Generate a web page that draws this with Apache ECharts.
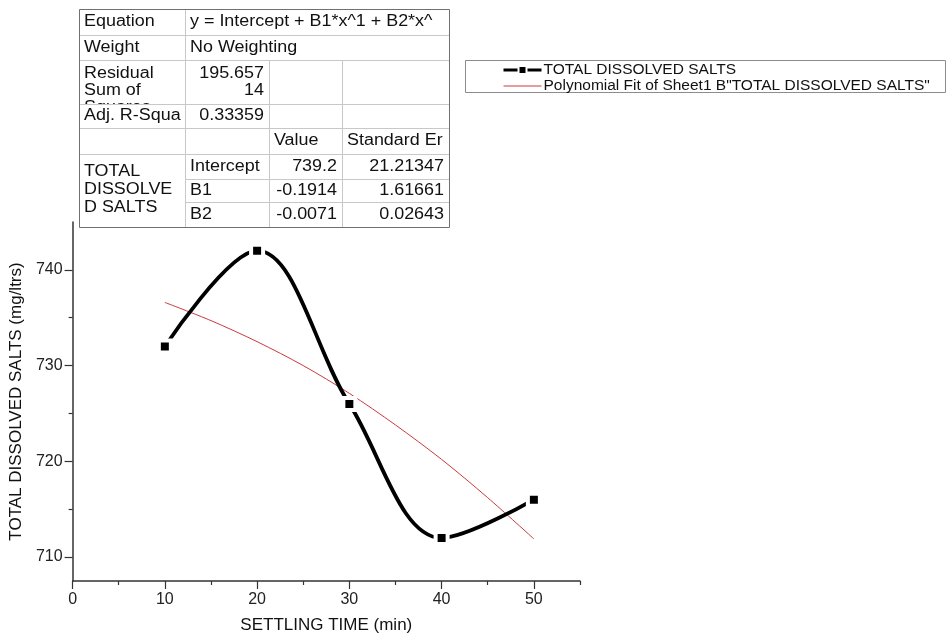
<!DOCTYPE html>
<html>
<head>
<meta charset="utf-8">
<script src="https://cdn.jsdelivr.net/npm/echarts@6/dist/echarts.min.js"></script>
<style>html,body{margin:0;padding:0;background:#fff;}#c{width:952px;height:639px;}</style>
</head>
<body>
<div id="c"></div>
<script>
// ---- data ----
const settlingTime = [10, 20, 30, 40, 50];
const tdsValues = [732, 742, 726, 712, 716];
const fitTime = [10, 15, 20, 25, 30, 35, 40, 45, 50];
const fitValues = [736.6, 734.7, 732.5, 730.0, 727.1, 723.8, 720.2, 716.2, 711.9];
const xLabelValues = [0, 10, 20, 30, 40, 50];
const xMinorTicks = [5, 15, 25, 35, 45, 55];
const yLabelValues = [710, 720, 730, 740];
const yMinorTicks = [715, 725, 735];
const seriesNames = ['TOTAL DISSOLVED SALTS', 'Polynomial Fit of Sheet1 B"TOTAL DISSOLVED SALTS"'];
const xTitle = 'SETTLING TIME (min)';
const yTitle = 'TOTAL DISSOLVED SALTS (mg/ltrs)';
// fit report table text
const tableRowLabels = ['Equation', 'Weight', 'Residual', 'Sum of', 'Squares', 'Adj. R-Squa'];
const equationText = 'y = Intercept + B1*x^1 + B2*x^';
const weightText = 'No Weighting';
const rssText = ['195.657', '14'];
const adjR2Text = '0.33359';
const paramHeaders = ['Value', 'Standard Er'];
const groupLabel = ['TOTAL', 'DISSOLVE', 'D SALTS'];
const paramNames = ['Intercept', 'B1', 'B2'];
const paramValues = ['739.2', '-0.1914', '-0.0071'];
const paramErrors = ['21.21347', '1.61661', '0.02643'];

const FONT = '"Liberation Sans", Arial, sans-serif';
const chart = echarts.init(document.getElementById('c'));

// table geometry
const colX = [79, 185, 269, 342, 449];
const rowY = [9, 35, 60, 104, 128, 154, 179, 202, 227];
const TFS = 16, SX = 1.12;
function txt(t, x, y, align, z) {
  return {type: 'text', x: x, y: y, scaleX: SX, z: z || 4,
    style: {text: t, x: 0, y: 0, align: align || 'left', verticalAlign: 'middle', font: TFS + 'px ' + FONT, fill: '#111'}};
}
function hline(y, x1, x2, c) {
  return {type: 'line', z: 5, shape: {x1: x1, y1: y + 0.5, x2: x2, y2: y + 0.5}, style: {stroke: c || '#c8c8c8', lineWidth: 1}};
}
function vline(x, y1, y2, c) {
  return {type: 'line', z: 5, shape: {x1: x + 0.5, y1: y1, x2: x + 0.5, y2: y2}, style: {stroke: c || '#c8c8c8', lineWidth: 1}};
}
const g = [];
g.push({type: 'rect', z: 1, shape: {x: colX[0], y: rowY[0], width: colX[4] - colX[0], height: rowY[8] - rowY[0]}, style: {fill: '#fff'}});
g.push(txt(tableRowLabels[0], 84, 22));
g.push(txt(equationText, 190, 22));
g.push(txt(tableRowLabels[1], 84, 47.5));
g.push(txt(weightText, 190, 47.5));
g.push(txt(tableRowLabels[2], 84, 74));
g.push(txt(tableRowLabels[3], 84, 91));
g.push(txt(tableRowLabels[4], 84, 108, 'left', 2));
g.push({type: 'rect', z: 3, shape: {x: colX[0] + 1, y: rowY[3] + 1, width: colX[1] - colX[0] - 1, height: rowY[4] - rowY[3] - 1}, style: {fill: '#fff'}});
g.push(txt(rssText[0], 264, 74, 'right'));
g.push(txt(rssText[1], 264, 91, 'right'));
g.push(txt(tableRowLabels[5], 84, 116));
g.push(txt(adjR2Text, 264, 116, 'right'));
g.push(txt(paramHeaders[0], 274, 141));
g.push(txt(paramHeaders[1], 347, 141));
groupLabel.forEach((t, i) => g.push(txt(t, 84, 172 + i * 18)));
const prow = [166.5, 190.5, 214.5];
paramNames.forEach((t, i) => {
  g.push(txt(t, 190, prow[i]));
  g.push(txt(paramValues[i], 337, prow[i], 'right'));
  g.push(txt(paramErrors[i], 444, prow[i], 'right'));
});
[1, 2, 3, 4, 5].forEach(i => g.push(hline(rowY[i], colX[0], colX[4])));
[6, 7].forEach(i => g.push(hline(rowY[i], colX[1], colX[4])));
g.push(vline(colX[1], rowY[0], rowY[8]));
g.push(vline(colX[2], rowY[2], rowY[8]));
g.push(vline(colX[3], rowY[2], rowY[8]));
g.push({type: 'rect', z: 6, shape: {x: colX[0] + 0.5, y: rowY[0] + 0.5, width: colX[4] - colX[0], height: rowY[8] - rowY[0]}, style: {fill: 'none', stroke: '#707070', lineWidth: 1}});
// legend frame
g.push({type: 'rect', z: 0, shape: {x: 465.5, y: 60.5, width: 480, height: 32}, style: {fill: 'none', stroke: '#8c8c8c', lineWidth: 1}});

const axisCommon = {
  axisLine: {show: true, lineStyle: {color: '#333', width: 1.5}},
  splitLine: {show: false}
};

chart.setOption({
  animation: false,
  backgroundColor: '#fff',
  textStyle: {fontFamily: FONT},
  grid: {left: 70, right: 372, top: 222, bottom: 55, containLabel: false},
  legend: {
    orient: 'vertical', left: 502, top: 62, padding: 0, itemGap: 0,
    itemWidth: 38, itemHeight: 10,
    textStyle: {fontSize: 15.5, lineHeight: 15.5, color: '#111', fontFamily: FONT, padding: [0, 0, 0, -3]},
    data: [
      {name: seriesNames[0], lineStyle: {width: 3, color: '#000'}},
      {name: seriesNames[1], itemStyle: {opacity: 0}, lineStyle: {width: 1, color: '#cc3a3a'}}
    ]
  },
  xAxis: [
    Object.assign({
      type: 'value', min: 0, max: 55, position: 'bottom',
      name: xTitle, nameLocation: 'middle', nameGap: 36,
      nameTextStyle: {fontSize: 17, color: '#111', fontFamily: FONT},
      axisTick: {show: true, inside: false, length: 8, customValues: xLabelValues, lineStyle: {color: '#333', width: 1.2}},
      axisLabel: {fontSize: 16, color: '#222', margin: 11, customValues: xLabelValues}
    }, axisCommon),
    {
      type: 'value', min: 0, max: 55, position: 'bottom', gridIndex: 0,
      axisLine: {show: false}, splitLine: {show: false}, axisLabel: {show: false},
      axisTick: {show: true, inside: false, length: 4, customValues: xMinorTicks, lineStyle: {color: '#333', width: 1.2}}
    }
  ],
  yAxis: [
    Object.assign({
      type: 'value', min: 707.5, max: 745, position: 'left',
      name: yTitle, nameLocation: 'middle', nameGap: 42,
      nameTextStyle: {fontSize: 17, color: '#111', fontFamily: FONT},
      axisTick: {show: true, inside: false, length: 8, customValues: yLabelValues, lineStyle: {color: '#333', width: 1.2}},
      axisLabel: {fontSize: 16, color: '#222', margin: 10, customValues: yLabelValues}
    }, axisCommon),
    {
      type: 'value', min: 707.5, max: 745, position: 'left', gridIndex: 0,
      axisLine: {show: false}, splitLine: {show: false}, axisLabel: {show: false},
      axisTick: {show: true, inside: false, length: 4, customValues: yMinorTicks, lineStyle: {color: '#333', width: 1.2}}
    }
  ],
  series: [
    {
      name: seriesNames[0], type: 'line', smooth: 0.36,
      xAxisIndex: 0, yAxisIndex: 0,
      data: settlingTime.map((x, i) => [x, tdsValues[i]]),
      symbol: 'rect', symbolSize: 12, showSymbol: true,
      lineStyle: {color: '#000', width: 3.8},
      itemStyle: {color: '#000', borderColor: '#fff', borderWidth: 4},
      z: 3
    },
    {
      name: seriesNames[1], type: 'line', smooth: 0.3,
      xAxisIndex: 0, yAxisIndex: 0,
      data: fitTime.map((x, i) => [x, fitValues[i]]),
      symbol: 'none',
      lineStyle: {color: '#cc3a3a', width: 1},
      itemStyle: {color: '#cc3a3a'},
      z: 2
    }
  ],
  graphic: g
});
</script>
</body>
</html>
